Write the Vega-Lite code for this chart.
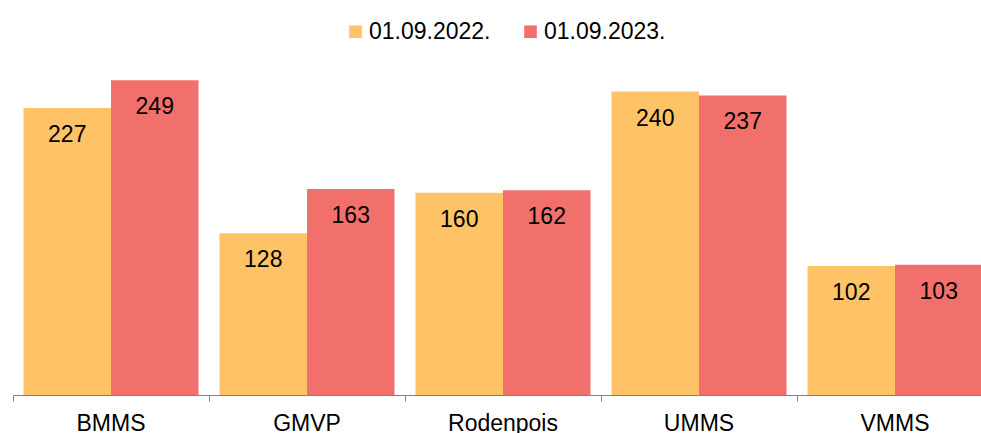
{
  "$schema": "https://vega.github.io/schema/vega-lite/v6.json",
  "autosize": {"type": "none"},
  "width": 968,
  "height": 335,
  "padding": {"left": 13, "top": 60, "right": 0, "bottom": 38},
  "background": "white",
  "config": {
    "font": "Liberation Sans",
    "view": {"stroke": null}
  },
  "data": {
    "values": [
      {"school": "BMMS", "date": "01.09.2022.", "value": 227},
      {"school": "BMMS", "date": "01.09.2023.", "value": 249},
      {"school": "GMVP", "date": "01.09.2022.", "value": 128},
      {"school": "GMVP", "date": "01.09.2023.", "value": 163},
      {"school": "Rodenpois", "date": "01.09.2022.", "value": 160},
      {"school": "Rodenpois", "date": "01.09.2023.", "value": 162},
      {"school": "UMMS", "date": "01.09.2022.", "value": 240},
      {"school": "UMMS", "date": "01.09.2023.", "value": 237},
      {"school": "VMMS", "date": "01.09.2022.", "value": 102},
      {"school": "VMMS", "date": "01.09.2023.", "value": 103}
    ]
  },
  "encoding": {
    "x": {
      "field": "school",
      "type": "nominal",
      "sort": null,
      "scale": {"range": [0, 980], "paddingInner": 0, "paddingOuter": 0},
      "axis": {
        "title": null,
        "bandPosition": 0,
        "labelOffset": 0,
        "labelAngle": 0,
        "labelFontSize": 23,
        "labelColor": "#000000",
        "labelPadding": 11,
        "labelOverlap": false,
        "tickSize": 6,
        "tickColor": "#808080",
        "domainColor": "#808080",
        "grid": false
      }
    },
    "xOffset": {
      "field": "date",
      "type": "nominal",
      "sort": ["01.09.2022.", "01.09.2023."],
      "scale": {"paddingOuter": 0.12, "paddingInner": 0}
    },
    "y": {
      "field": "value",
      "type": "quantitative",
      "scale": {"domain": [0, 265]},
      "axis": null
    }
  },
  "layer": [
    {
      "mark": {"type": "bar"},
      "encoding": {
        "color": {
          "field": "date",
          "type": "nominal",
          "scale": {"domain": ["01.09.2022.", "01.09.2023."], "range": ["#FDC366", "#F2706B"]},
          "legend": {
            "title": null,
            "orient": "none",
            "direction": "horizontal",
            "legendX": 331,
            "legendY": -40,
            "symbolType": "square",
            "symbolSize": 160,
            "symbolStrokeWidth": 0,
            "labelFontSize": 23,
            "labelColor": "#000000",
            "labelOffset": 2,
            "columnPadding": 28,
            "padding": 0
          }
        }
      }
    },
    {
      "mark": {"type": "text", "baseline": "middle", "dy": 27, "fontSize": 23, "color": "#000000"},
      "encoding": {
        "text": {"field": "value", "type": "quantitative"}
      }
    }
  ]
}
